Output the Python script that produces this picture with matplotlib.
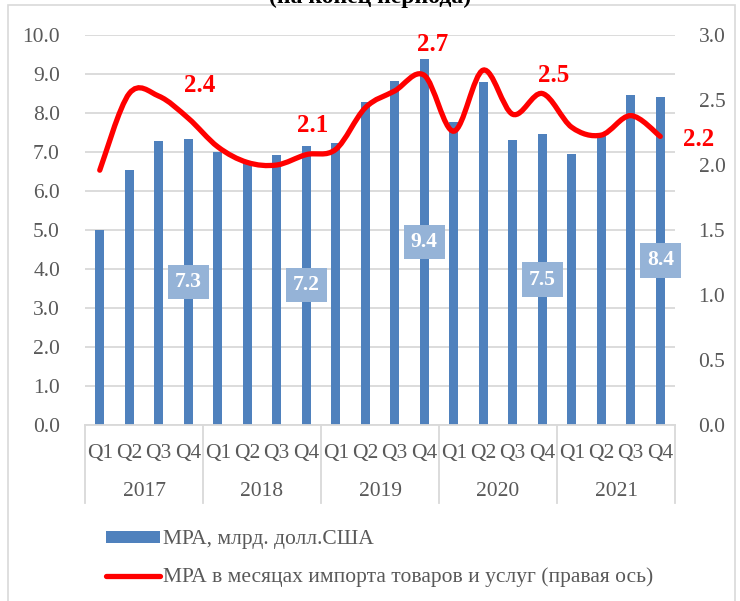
import numpy as np
import matplotlib.pyplot as plt
from matplotlib.path import Path
from matplotlib.patches import PathPatch, Rectangle, Patch
from matplotlib.lines import Line2D
import matplotlib.transforms as mtransforms

plt.rcParams['font.family'] = ['Liberation Serif', 'DejaVu Serif']

# ================= DATA =================
QUARTERS = ['Q1', 'Q2', 'Q3', 'Q4']
YEARS = ['2017', '2018', '2019', '2020', '2021']
RESERVES = [5.0, 6.55, 7.28, 7.33,
            7.0, 6.78, 6.92, 7.15,
            7.24, 8.29, 8.82, 9.38,
            7.78, 8.80, 7.31, 7.46,
            6.94, 7.40, 8.46, 8.41]
MONTHS = [1.96, 2.55, 2.53, 2.36,
          2.14, 2.02, 2.00, 2.08,
          2.12, 2.44, 2.57, 2.69,
          2.26, 2.73, 2.39, 2.55,
          2.29, 2.23, 2.38, 2.22]
BAR_LABEL_IDX = [3, 7, 11, 15, 19]
LINE_LABEL_IDX = [3, 7, 11, 15, 19]
TITLE = '(на конец периода)'
LEG_BAR = 'МРА, млрд. долл.США'
LEG_LINE = 'МРА в месяцах импорта товаров и услуг (правая ось)'

BLUE = '#4f81bd'
GRAY = '#595959'
GRID = '#d9d9d9'
FS = 15.5

W, H = 740, 601
fig = plt.figure(figsize=(W / 100, H / 100), dpi=100)

# figure border
fig.patches.append(Rectangle((8 / W, -0.01), (735 - 8) / W, 1 - 5 / H + 0.01,
                             transform=fig.transFigure, fill=False,
                             edgecolor=GRID, linewidth=1.2))
# title, cut off at the top like in the source
fig.text(370 / W, 1 - 3 / H, TITLE, ha='center', va='baseline',
         fontsize=17, fontweight='bold', color='black')

left, right, top, bottom = 85, 675, 35, 425
ax = fig.add_axes([left / W, 1 - bottom / H, (right - left) / W, (bottom - top) / H])
ax2 = ax.twinx()

x = np.arange(len(RESERVES))
ax.bar(x, RESERVES, width=0.3, color=BLUE, zorder=2)
ax.set_xlim(-0.5, len(x) - 0.5)
ax.set_ylim(0, 10)
ax.set_yticks(np.arange(0, 10.5, 1.0))
ax.set_yticklabels([f'{v:.1f}' for v in np.arange(0, 10.5, 1.0)])
ax.yaxis.grid(True, color=GRID, linewidth=1.3, zorder=0)
ax.set_axisbelow(True)
for s in ['top', 'left', 'right']:
    ax.spines[s].set_visible(False)
ax.spines['bottom'].set_color(GRID)
ax.spines['bottom'].set_linewidth(1.3)
ax.tick_params(axis='y', length=0, pad=18, labelsize=FS, labelcolor=GRAY)
ax.set_xticks(x)
ax.set_xticklabels(QUARTERS * len(YEARS))
ax.tick_params(axis='x', length=0, pad=14, labelsize=FS, labelcolor=GRAY)

# year row and group separators
trans = mtransforms.blended_transform_factory(ax.transData, ax.transAxes)
for k, yr in enumerate(YEARS):
    ax.text(4 * k + 1.5, -(491 - bottom) / (bottom - top), yr, transform=trans,
            ha='center', va='center', fontsize=FS, color=GRAY)
for b in np.arange(-0.5, len(x), 4):
    ax.plot([b, b], [0, -(503 - bottom) / (bottom - top)], transform=trans,
            color=GRID, linewidth=1.3, clip_on=False)

# bar value labels
bar_label_y = {3: 3.67, 7: 3.58, 11: 4.7, 15: 3.73, 19: 4.22}
for i in BAR_LABEL_IDX:
    ax.text(i, bar_label_y[i], f'{RESERVES[i]:.1f}', ha='center', va='center',
            fontsize=FS, fontweight='bold', color='white', zorder=4,
            bbox=dict(boxstyle='square,pad=0.33', facecolor='#95b3d7', edgecolor='none'))

# smoothed line on right axis (Excel-style bezier)
ax2.set_ylim(0, 3)
ax2.set_yticks(np.arange(0, 3.01, 0.5))
ax2.set_yticklabels([f'{v:.1f}' for v in np.arange(0, 3.01, 0.5)])
ax2.tick_params(axis='y', length=0, pad=17, labelsize=FS, labelcolor=GRAY)
for s in ax2.spines.values():
    s.set_visible(False)

pts = np.column_stack([x, MONTHS]).astype(float)
verts = [pts[0]]
codes = [Path.MOVETO]
n = len(pts)
for i in range(n - 1):
    p0 = pts[max(i - 1, 0)]
    p1 = pts[i]
    p2 = pts[i + 1]
    p3 = pts[min(i + 2, n - 1)]
    c1 = p1 + (p2 - p0) / 6
    c2 = p2 - (p3 - p1) / 6
    verts += [c1, c2, p2]
    codes += [Path.CURVE4] * 3
ax2.add_patch(PathPatch(Path(verts, codes), fill=False, edgecolor='#ff0000',
                        linewidth=3.8, capstyle='round', zorder=3))

label_pos = {3: (3.4, 2.61), 7: (7.2, 2.3), 11: (11.3, 2.93), 15: (15.4, 2.69), 19: (20.3, 2.2)}
for i in LINE_LABEL_IDX:
    lx, ly = label_pos[i]
    ax2.text(lx, ly, f'{MONTHS[i]:.1f}', ha='center', va='center', fontsize=18,
             fontweight='bold', color='#ff0000', clip_on=False)

# legend
handles = [Patch(facecolor=BLUE, edgecolor='none'),
           Line2D([], [], color='#ff0000', linewidth=3.8, solid_capstyle='round')]
fig.legend(handles, [LEG_BAR, LEG_LINE], loc='upper left',
           bbox_to_anchor=(87 / W, 1 - 511 / H), frameon=False, fontsize=FS,
           handlelength=2.5, handleheight=0.47, handletextpad=0.15,
           labelspacing=0.85, labelcolor=GRAY)

fig.savefig('out.png', dpi=100)
